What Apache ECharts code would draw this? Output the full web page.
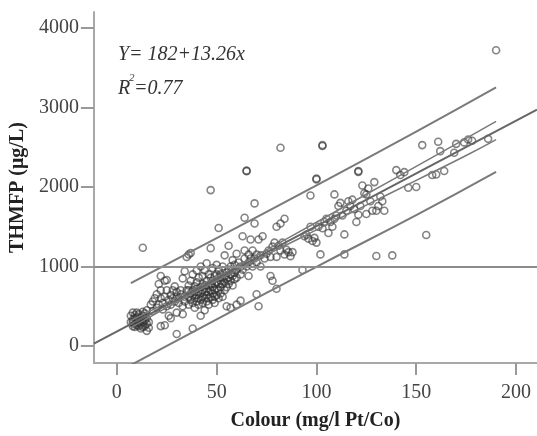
<!DOCTYPE html>
<html>
<head>
<meta charset="utf-8">
<script src="https://cdn.jsdelivr.net/npm/echarts@6/dist/echarts.min.js"></script>
<style>html,body{margin:0;padding:0;background:#fff;}#c{width:537px;height:436px;}</style>
</head>
<body>
<div id="c"></div>
<script>
// ---- data ----
const xTicks = [0, 50, 100, 150, 200];
const yTicks = [0, 1000, 2000, 3000, 4000];
const equationText = 'Y= 182+13.26x';
const r2Text = '0.77';
const refLineY = 1000;

// observed points [colour, THMFP]
const points = [
 [7,300],[7,380],[8,250],[8,330],[8,420],[9,280],[9,350],[9,390],[10,260],[10,310],[10,360],[11,290],[11,330],[11,400],[12,270],[12,350],[13,300],[13,380],[13,430],[14,250],[14,320],[14,410],[15,280],[15,350],[15,450],[16,230],[16,300],[15,190],[12,220],[9,240],[10,420],[14,360],[8,290],[11,250],[13,240],[13,1236],
 [17,520],[18,560],[18,440],[19,600],[20,480],[20,650],[21,520],[21,780],[22,600],[22,700],[23,460],[23,540],[24,620],[24,820],[25,500],[25,700],[26,580],[26,380],[27,640],[27,520],[28,700],[28,600],[29,560],[29,750],[30,620],[30,680],[30,420],[31,540],[31,600],[32,700],[32,650],[33,500],[33,850],[34,620],[34,560],[35,700],[35,1120],[34,940],[36,1150],[37,1170],[24,260],[22,250],[30,150],[27,350],[33,400],[22,880],[25,830],
 [36,520],[36,620],[36,700],[36,760],[37,580],[37,660],[37,820],[38,540],[38,640],[38,700],[38,900],[38,220],[39,600],[39,680],[39,750],[39,480],[40,560],[40,640],[40,720],[40,800],[40,950],[41,520],[41,600],[41,680],[41,860],[42,580],[42,660],[42,740],[42,1000],[42,380],[43,540],[43,620],[43,700],[43,780],[43,880],[44,600],[44,680],[44,760],[44,950],[44,450],[45,560],[45,640],[45,720],[45,820],[45,1040],[46,600],[46,680],[46,760],[46,900],[46,520],[47,620],[47,700],[47,780],[47,860],[47,1230],[48,580],[48,660],[48,740],[48,820],[48,980],[49,620],[49,700],[49,780],[49,880],[49,540],[50,640],[50,720],[50,800],[50,900],[50,1020],[51,600],[51,700],[51,780],[51,860],[51,960],[52,660],[52,740],[52,820],[52,900],[53,620],[53,780],[53,860],[53,1000],[54,700],[54,800],[54,880],[54,1140],[55,740],[55,840],[55,920],[55,500],[56,780],[56,860],[56,960],[56,1260],[57,820],[57,900],[57,1000],[57,480],[58,760],[58,880],[58,960],[58,1080],[59,840],[59,920],[59,1020],[60,860],[60,960],[60,1160],[60,520],[62,900],[62,1000],[62,570],[47,1960],[51,1483],
 [61,1050],[63,960],[63,1380],[64,1100],[64,1613],[64,1200],[65,2199],[65,2205],[65,1000],[66,1050],[66,1150],[66,880],[67,1100],[67,1340],[68,1000],[68,1200],[69,1793],[69,1540],[69,1100],[70,1150],[70,650],[70,1050],[71,1340],[71,500],[72,1000],[72,1140],[73,1380],[74,1100],[75,1160],[76,1200],[77,880],[77,1120],[78,820],[78,1250],[79,1300],[80,1500],[80,1120],[80,720],[82,2492],[81,1260],[82,1540],[82,1200],[83,1300],[84,1600],[84,1150],[85,1210],[86,1180],[87,1130],[88,1180],
 [93,955],[94,1380],[95,1400],[96,1350],[97,1893],[97,1500],[98,1320],[99,1360],[100,2107],[100,2095],[100,1300],[101,1500],[102,1152],[103,2526],[103,2515],[103,1480],[104,1560],[105,1600],[106,1420],[107,1560],[108,1500],[109,1906],[109,1600],[110,1640],[111,1760],[112,1800],[113,1640],[114,1403],[114,1152],[115,1700],[116,1820],[117,1760],[118,1840],[119,1720],[120,1560],[121,2199],[121,2190],[121,1650],[122,1760],[123,2019],[124,1920],[125,1906],[125,1660],[126,1980],[127,1820],[128,1700],[129,2061],[130,1131],[130,1700],[131,1760],[132,1880],[133,1820],[134,1700],[138,1139],
 [140,2212],[142,2150],[144,2186],[146,1990],[150,2000],[153,2526],[155,1395],[158,2150],[160,2157],[161,2568],[162,2450],[164,2200],[169,2430],[170,2542],[174,2560],[176,2597],[178,2580],[186,2605],[190,3719]
];

// fitted line end points
const fitX = [-11.5, 210.5];
const fitY = [30, 2973];

// 95% mean confidence band
const confX = [7, 25, 50, 75, 100, 125, 150, 175, 190];
const confUpper = [320, 546, 870, 1209, 1556, 1908, 2259, 2611, 2825];
const confLower = [230, 482, 820, 1145, 1460, 1772, 2083, 2395, 2595];

// 95% prediction band
const predX = [7, 50, 100, 150, 190];
const predUpper = [790, 1355, 2020, 2696, 3252];
const predLower = [-240, 335, 996, 1646, 2190];

// ---- build chart ----
const zip = (xs, ys) => xs.map((x, i) => [x, ys[i]]);
const lineColor = '#7a7a7a';
const serif = '"Liberation Serif", "Times New Roman", serif';

function band(name, xs, ys, w) {
  return { name, type: 'line', data: zip(xs, ys), symbol: 'none', smooth: true,
    lineStyle: { color: lineColor, width: w }, silent: true, z: 3 };
}

const chart = echarts.init(document.getElementById('c'), null, { renderer: 'canvas' });
chart.setOption({
  animation: false,
  backgroundColor: '#fff',
  grid: { left: 93, top: 12, right: 0, bottom: 73, containLabel: false },
  xAxis: {
    type: 'value', min: -11.5, max: 210.5,
    name: 'Colour (mg/l Pt/Co)', nameLocation: 'middle', nameGap: 48,
    nameTextStyle: { fontFamily: serif, fontSize: 20, fontWeight: 'bold', color: '#222' },
    axisLine: { show: true, onZero: false, lineStyle: { color: '#a8a8a8', width: 2 } },
    axisTick: { show: true, customValues: xTicks, length: 12, lineStyle: { color: '#999', width: 2 } },
    axisLabel: { customValues: xTicks, fontFamily: serif, fontSize: 20, color: '#444', margin: 20,
      formatter: v => String(v) },
    splitLine: { show: false }
  },
  yAxis: {
    type: 'value', min: -214, max: 4200,
    name: 'THMFP (μg/L)', nameLocation: 'middle', nameGap: 62, nameRotate: 90,
    nameTextStyle: { fontFamily: serif, fontSize: 20, fontWeight: 'bold', color: '#222' },
    axisLine: { show: true, onZero: false, lineStyle: { color: '#a8a8a8', width: 2 } },
    axisTick: { show: true, customValues: yTicks, length: 13, lineStyle: { color: '#999', width: 2 } },
    axisLabel: { customValues: yTicks, fontFamily: serif, fontSize: 20, color: '#444', margin: 15,
      formatter: v => String(v) },
    splitLine: { show: false }
  },
  series: [
    { name: 'obs', type: 'scatter', data: points, symbol: 'circle', symbolSize: 7,
      itemStyle: { color: 'rgba(0,0,0,0)', borderColor: 'rgba(50,50,50,0.6)', borderWidth: 1.6, opacity: 1 }, z: 2,
      markLine: { silent: true, symbol: 'none', label: { show: false },
        lineStyle: { color: '#8c8c8c', width: 2, type: 'solid' },
        data: [{ yAxis: refLineY }] } },
    { name: 'fit', type: 'line', data: zip(fitX, fitY), symbol: 'none',
      lineStyle: { color: '#666', width: 2 }, silent: true, z: 4 },
    band('cu', confX, confUpper, 1.5),
    band('cl', confX, confLower, 1.5),
    band('pu', predX, predUpper, 2),
    band('pl', predX, predLower, 2)
  ],
  graphic: [
    { type: 'text', left: 118, top: 45, style: { text: equationText, font: 'italic 20px ' + serif, fill: '#333' } },
    { type: 'text', left: 118, top: 79, style: { text: 'R', font: 'italic 20px ' + serif, fill: '#333' } },
    { type: 'text', left: 129, top: 73, style: { text: '2', font: 'italic 11px ' + serif, fill: '#333' } },
    { type: 'text', left: 134, top: 79, style: { text: '=' + r2Text, font: 'italic 20px ' + serif, fill: '#333' } }
  ]
});
</script>
</body>
</html>
